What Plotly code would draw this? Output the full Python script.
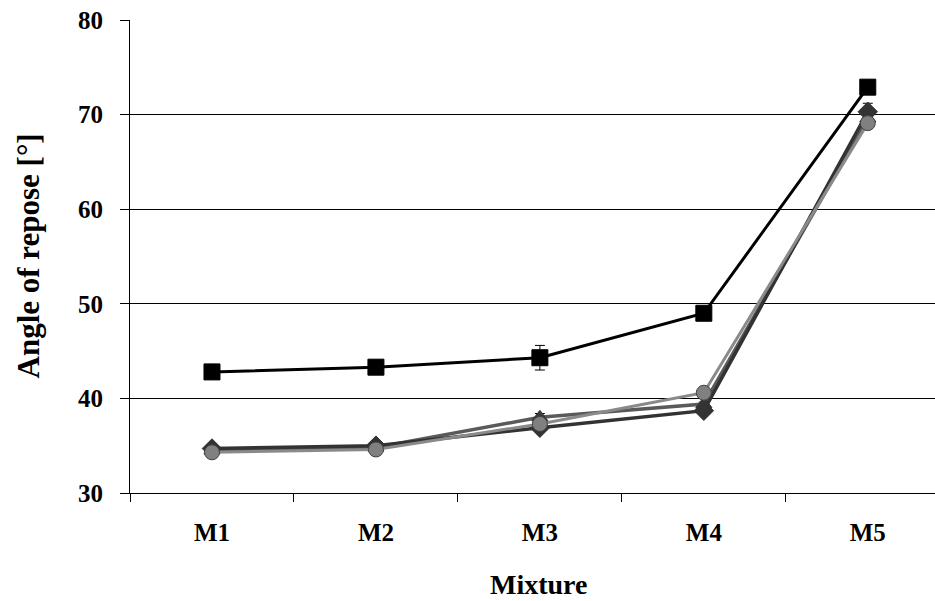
import plotly.graph_objects as go

categories = ["M1", "M2", "M3", "M4", "M5"]
sq_vals = [42.8, 43.3, 44.3, 49.0, 72.9]
sq_err = [0.2, 0.2, 1.3, 0.3, 0.2]
dia_vals = [34.7, 35.0, 36.9, 38.7, 70.3]
dia_err = [0.3, 0.3, 0.3, 0.2, 0.9]
tri_vals = [34.5, 34.8, 38.0, 39.4, 69.6]
tri_err = [0.4, 0.3, 0.4, 0.2, 0.5]
cir_vals = [34.3, 34.6, 37.3, 40.6, 69.1]
cir_err = [0.2, 0.2, 0.3, 0.2, 0.4]
y_ticks = [30, 40, 50, 60, 70, 80]

FONT = "Liberation Serif"

fig = go.Figure()

def add(vals, err, color, lcolor, symbol, size, lw, mline):
    fig.add_trace(go.Scatter(
        x=categories, y=vals, mode="lines+markers",
        line=dict(color=lcolor, width=lw),
        marker=dict(symbol=symbol, size=size, color=color,
                    line=dict(color=mline, width=1)),
        error_y=dict(type="data", array=err, color="#000000",
                     thickness=1, width=5),
        showlegend=False,
    ))

add(tri_vals, tri_err, "#3a3a3a", "#5a5a5a", "triangle-up", 14, 3.5, "#333333")
add(dia_vals, dia_err, "#333333", "#333333", "diamond", 15, 3.5, "#333333")
add(sq_vals, sq_err, "#000000", "#000000", "square", 16, 3, "#000000")
add(cir_vals, cir_err, "#808080", "#8a8a8a", "circle", 15, 3, "#404040")

fig.update_layout(
    width=935, height=601,
    margin=dict(l=130, r=0, t=20, b=108),
    plot_bgcolor="white", paper_bgcolor="white",
    font=dict(family=FONT, color="black"),
    xaxis=dict(
        type="category", range=[-0.5, 4.41],
        showline=True, linecolor="black", linewidth=1,
        ticks="outside", tickson="boundaries", ticklen=8, tickcolor="black",
        showgrid=False, zeroline=False,
        tickfont=dict(family=FONT, size=25, color="black", weight="bold"),
        ticklabelstandoff=17,
    ),
    yaxis=dict(
        range=[30, 80], tickvals=y_ticks,
        showline=True, linecolor="black", linewidth=1,
        ticks="outside", ticklen=9, tickcolor="black",
        showgrid=True, gridcolor="black", gridwidth=1,
        zeroline=False,
        tickfont=dict(family=FONT, size=25, color="black", weight="bold"),
        ticklabelstandoff=12,
    ),
    annotations=[
        dict(text="<b>Mixture</b>", xref="paper", yref="paper",
             x=(538 - 130) / 805, y=-(584 - 493) / 473, xanchor="center",
             yanchor="middle", showarrow=False,
             font=dict(family=FONT, size=28, color="black")),
        dict(text="<b>Angle of repose [°]</b>", xref="paper", yref="paper",
             x=-(130 - 28) / 805, y=0.5, xanchor="center", yanchor="middle",
             textangle=-90, showarrow=False,
             font=dict(family=FONT, size=31, color="black")),
    ],
)

fig.write_html("out.html")
